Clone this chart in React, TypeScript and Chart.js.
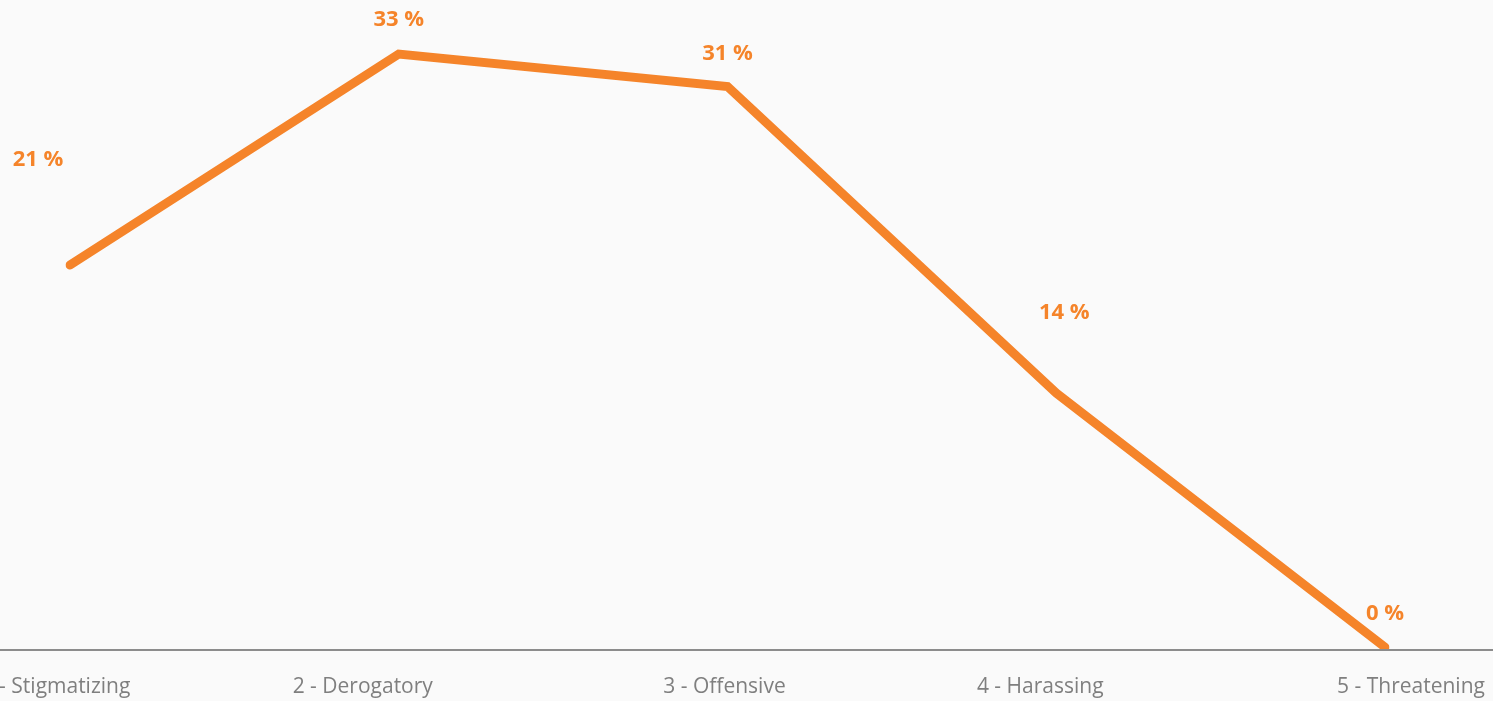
import React, { useEffect, useRef } from "react";
import { Chart, registerables } from "chart.js";

Chart.register(...registerables);

const categories = ["1 - Stigmatizing", "2 - Derogatory", "3 - Offensive", "4 - Harassing", "5 - Threatening"];
const shares = [21.3, 33, 31.2, 14.2, 0.1];
const labelShift = [
  [-32, -105],
  [0, -34],
  [0, -33],
  [8, -80],
  [0, -33],
];
const tickShift = [-14, -36, -3, -16, 26];

const ORANGE = "#f5842a";

const valueLabels = {
  id: "valueLabels",
  afterDatasetsDraw(chart: any) {
    const meta = chart.getDatasetMeta(0);
    const ctx = chart.ctx;
    ctx.save();
    ctx.font = "bold 22px 'Open Sans'";
    ctx.fillStyle = ORANGE;
    ctx.textAlign = "center";
    ctx.textBaseline = "middle";
    meta.data.forEach((pt: any, i: number) => {
      const [dx, dy] = labelShift[i] || [0, -34];
      ctx.fillText(`${Math.round(shares[i])} %`, pt.x + dx, pt.y + dy);
    });
    ctx.restore();
  },
};

const axisDecor = {
  id: "axisDecor",
  beforeDatasetsDraw(chart: any) {
    const ctx = chart.ctx;
    const xs = chart.scales.x;
    const y = chart.chartArea.bottom;
    ctx.save();
    ctx.strokeStyle = "#8c8c8c";
    ctx.lineWidth = 2;
    ctx.beginPath();
    ctx.moveTo(0, y + 1);
    ctx.lineTo(chart.width, y + 1);
    ctx.stroke();
    ctx.font = "21px 'Open Sans'";
    ctx.fillStyle = "#7f7f7f";
    ctx.textAlign = "center";
    ctx.textBaseline = "middle";
    categories.forEach((c, i) => {
      ctx.fillText(c, xs.getPixelForTick(i) + (tickShift[i] || 0), y + 38);
    });
    ctx.restore();
  },
};

export default function App() {
  const ref = useRef<HTMLCanvasElement>(null);
  useEffect(() => {
    if (!ref.current) return;
    const chart = new Chart(ref.current, {
      type: "line",
      data: {
        labels: categories,
        datasets: [
          {
            data: shares,
            borderColor: ORANGE,
            borderWidth: 9,
            borderCapStyle: "round",
            borderJoinStyle: "miter",
            pointRadius: 0,
            tension: 0,
            fill: false,
          },
        ],
      },
      options: {
        animation: false,
        responsive: false,
        devicePixelRatio: 1,
        layout: { padding: { left: 70, right: 108, top: 0, bottom: 0 } },
        plugins: { legend: { display: false }, tooltip: { enabled: false } },
        scales: {
          x: {
            offset: false,
            grid: { display: false, drawTicks: false },
            border: { display: false },
            ticks: { display: false },
            afterFit: (scale: any) => {
              scale.height = 52;
              scale.paddingLeft = 0;
              scale.paddingRight = 0;
            },
          },
          y: {
            display: false,
            min: 0,
            max: 36,
          },
        },
      },
      plugins: [axisDecor, valueLabels],
    });
    return () => chart.destroy();
  }, []);
  return (
    <div
      style={{
        position: "fixed",
        left: 0,
        top: 0,
        width: 1493,
        height: 701,
        overflow: "hidden",
        background: "#fafafa",
      }}
    >
      <canvas
        ref={ref}
        width={1493}
        height={701}
        style={{ position: "absolute", left: 0, top: 0, width: 1493, height: 701 }}
      />
    </div>
  );
}
